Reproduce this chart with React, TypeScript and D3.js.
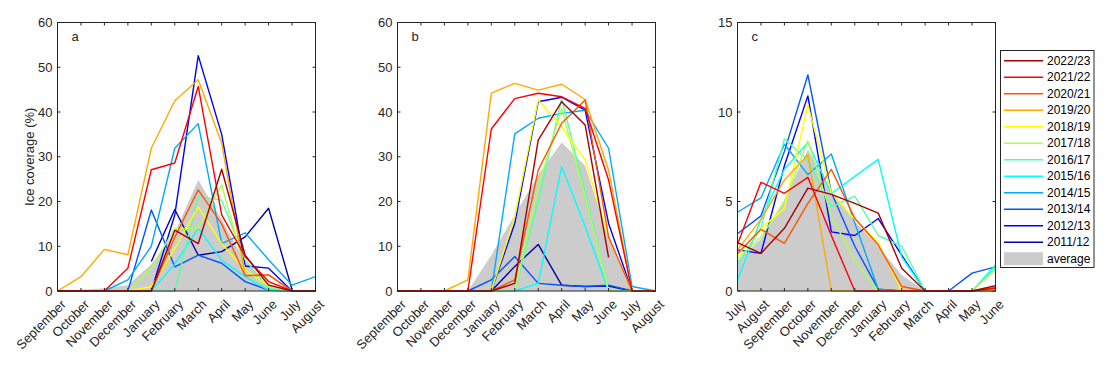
import React from "react";
import * as d3 from "d3";

const seasons = ["2022/23","2021/22","2020/21","2019/20","2018/19","2017/18","2016/17","2015/16","2014/15","2013/14","2012/13","2011/12"];
const seasonColors = ["#aa0000","#ff0000","#ff5500","#ffaa00","#ffff00","#aaff55","#55ffaa","#00ffff","#00aaff","#0055ff","#0000ff","#0000aa"];

const monthsSepAug = ["September","October","November","December","January","February","March","April","May","June","July","August"];
const monthsJulJun = ["July","August","September","October","November","December","January","February","March","April","May","June"];

// panel a (Sep..Aug), order as seasons
const panelA: (number | null)[][] = [
  [0,0,0,0,0,13.6,10.6,27.2,8,1.3,0,0],
  [0,0,0,5.1,27.1,28.6,45.7,17,7.7,2.1,0,0],
  [0,0,0,0,0,12,22.6,15,3.4,3.6,0,0],
  [0,3.2,9.3,8.1,31.9,42.5,47.2,33,3.5,3.6,0,0],
  [0,0,0,0,1,9.5,18.8,10.6,4.7,1.3,0,0],
  [0,0,0,0,5,14,14,23.7,4.7,1,0,0],
  [0,0,0,0,0,0,21.1,20.3,7,0.6,0,0],
  [0,0,0,0,0,6,14,6.9,3.2,0.2,0,0],
  [0,0,0,2.5,10,31.9,37.4,10.6,13,7,1.3,3.2],
  [0,0,0,0,18.1,5.4,8.0,6.2,2.1,0.2,0,0],
  [0,0,0,0,0,17,52.6,35,5.6,5.1,0,0],
  [null,null,null,null,6.6,18.2,8,8.8,12.1,18.5,0.3,null],
];
const avgA = [0,0.3,0.6,1.3,6,13,24.8,16,6.5,1.5,0,0.1];

// panel b (Sep..Aug)
const panelB: (number | null)[][] = [
  [0,0,0,0,0,1.7,33.7,42.3,37.1,7.5,null,null],
  [0,0,0,0,36.2,43,44.2,43.4,40.8,24.8,0,0],
  [0,0,0,0,0,2.5,27,37.5,42.7,12.1,0,0],
  [0,0,0,2.5,44.2,46.4,44.9,46.2,42.8,27,0,0],
  [0,0,0,0,0,16.6,42.7,36.7,29.3,12.1,0,0],
  [0,0,0,0,0,0,23.3,40.8,21,0,0,0],
  [0,0,0,0,0,0,20,43,22,0,0,0],
  [0,0,0,0,0,0,1.7,27.8,14.4,0,0,0],
  [0,0,0,0,0,35.1,38.6,39.7,40.4,31.9,1,0],
  [0,0,0,0,2.5,7.7,1.7,1.3,1,1.3,0,0],
  [0,0,0,0,0,15.1,42.3,43.3,40.4,15.1,0,0],
  [null,null,null,null,0,5.5,10.4,1.3,1,1.1,0,null],
];
const avgB = [0,0,0,0,8,17,26,33.2,28,12,0,0];

// panel c (Jul..Jun)
const panelC: (number | null)[][] = [
  [2.7,2.1,3.5,5.75,5.4,4.9,4.35,1.27,0,0,0,0.3],
  [2.6,6.07,5.46,6.35,3.1,0,0,0,0,0,0,0.15],
  [2.1,3.45,2.66,4.9,6.8,4.06,2.57,0.25,0,0,0,0.2],
  [2.3,4,6.2,7.6,0,0,0,0,0,0,0,0],
  [2,3.5,4.6,10.4,5.5,4,2.7,0,0,0,0,0],
  [1.8,3,5,8.4,4.2,1.7,0,0,0,0,0,1.2],
  [1.5,3.5,8.5,7.3,4.7,5.3,3.1,2.5,0,0,0,1.3],
  [0.6,4,6.8,8.3,5.45,6.4,7.35,1.9,0,0,0,1.45],
  [4.4,5.2,8.2,6.5,7.65,3.8,0.1,0,0,0,0,0],
  [3.2,4.2,7.8,12.07,5.5,2.5,0.1,0,0,0,1,1.35],
  [2.3,2.1,7,10.9,3.3,3.1,4.05,2.0,0,0,0,0],
  [null,null,null,null,null,null,null,null,null,null,null,null],
];
const avgC = [1.7,2.9,5.1,7.9,5.6,3.9,2.5,0.9,0,0,0,0.3];

const yTicksA = [0,10,20,30,40,50,60];
const yTicksC = [0,5,10,15];

const FONT = "'Liberation Sans', Arial, Helvetica, sans-serif";
const AX = "#262626";
const TOP = 22.5;
const BOTTOM = 291;
const FS = 13;

type PanelProps = {
  left: number; right: number; ymax: number; yticks: number[];
  months: string[]; data: (number | null)[][]; avg: number[]; label: string;
};

function Panel({ left, right, ymax, yticks, months, data, avg, label }: PanelProps) {
  const x = d3.scalePoint<string>().domain(months).range([left, right]);
  const y = d3.scaleLinear().domain([0, ymax]).range([BOTTOM, TOP]);
  const line = d3.line<number | null>()
    .defined((d) => d !== null)
    .x((_, i) => x(months[i]) as number)
    .y((d) => y(d as number));
  const area = d3.area<number>()
    .x((_, i) => x(months[i]) as number)
    .y0(y(0))
    .y1((d) => y(d));
  const tl = 3;
  const order = d3.range(data.length).reverse();
  return (
    <g>
      <path d={area(avg) || ""} fill="#cccccc" stroke="none" />
      {order.map((k) => (
        <path key={k} d={line(data[k]) || ""} fill="none" stroke={seasonColors[k]} strokeWidth={1.4} strokeLinejoin="round" />
      ))}
      <rect x={left} y={TOP} width={right - left} height={BOTTOM - TOP} fill="none" stroke={AX} strokeWidth={1} />
      {months.map((m) => {
        const xx = x(m) as number;
        return (
          <g key={m}>
            <line x1={xx} x2={xx} y1={BOTTOM} y2={BOTTOM - tl} stroke={AX} />
            <line x1={xx} x2={xx} y1={TOP} y2={TOP + tl} stroke={AX} />
            <text transform={`translate(${xx + 6},${BOTTOM + 11}) rotate(-45)`} textAnchor="end" dy="0.35em"
              fontSize={FS} fill={AX} fontFamily={FONT}>{m}</text>
          </g>
        );
      })}
      {yticks.map((t) => (
        <g key={t}>
          <line x1={left} x2={left + tl} y1={y(t)} y2={y(t)} stroke={AX} />
          <line x1={right} x2={right - tl} y1={y(t)} y2={y(t)} stroke={AX} />
          <text x={left - 5} y={y(t)} dy="0.35em" textAnchor="end" fontSize={FS} fill={AX} fontFamily={FONT}>{t}</text>
        </g>
      ))}
      <text x={left + 14} y={41} fontSize={FS} fill={AX} fontFamily={FONT}>{label}</text>
    </g>
  );
}

function Legend() {
  const lx = 1000.5, ly = 50.5, lw = 93.5, lh = 217;
  const rows = d3.scaleLinear().domain([0, 12]).range([60.7, 258.7]);
  return (
    <g>
      <rect x={lx} y={ly} width={lw} height={lh} fill="#ffffff" stroke={AX} strokeWidth={1} />
      {seasons.map((s, i) => (
        <g key={s}>
          <line x1={1004} x2={1043} y1={rows(i)} y2={rows(i)} stroke={seasonColors[i]} strokeWidth={1.4} />
          <text x={1047} y={rows(i)} dy="0.35em" fontSize={12} fill="#000" fontFamily={FONT}>{s}</text>
        </g>
      ))}
      <rect x={1004} y={rows(12) - 6.5} width={39} height={13} fill="#cccccc" />
      <text x={1047} y={rows(12)} dy="0.35em" fontSize={12} fill="#000" fontFamily={FONT}>average</text>
    </g>
  );
}

export default function App() {
  return (
    <svg width={1110} height={366} style={{ position: "absolute", left: 0, top: 0, background: "#fff" }}>
      <rect width={1110} height={366} fill="#fff" />
      <Panel left={57.5} right={315.5} ymax={60} yticks={yTicksA} months={monthsSepAug} data={panelA} avg={avgA} label="a" />
      <Panel left={397.5} right={655.5} ymax={60} yticks={yTicksA} months={monthsSepAug} data={panelB} avg={avgB} label="b" />
      <Panel left={737.5} right={995.5} ymax={15} yticks={yTicksC} months={monthsJulJun} data={panelC} avg={avgC} label="c" />
      <text transform="translate(34,156.75) rotate(-90)" textAnchor="middle" fontSize={FS} fill={AX} fontFamily={FONT}>Ice coverage (%)</text>
      <Legend />
    </svg>
  );
}
